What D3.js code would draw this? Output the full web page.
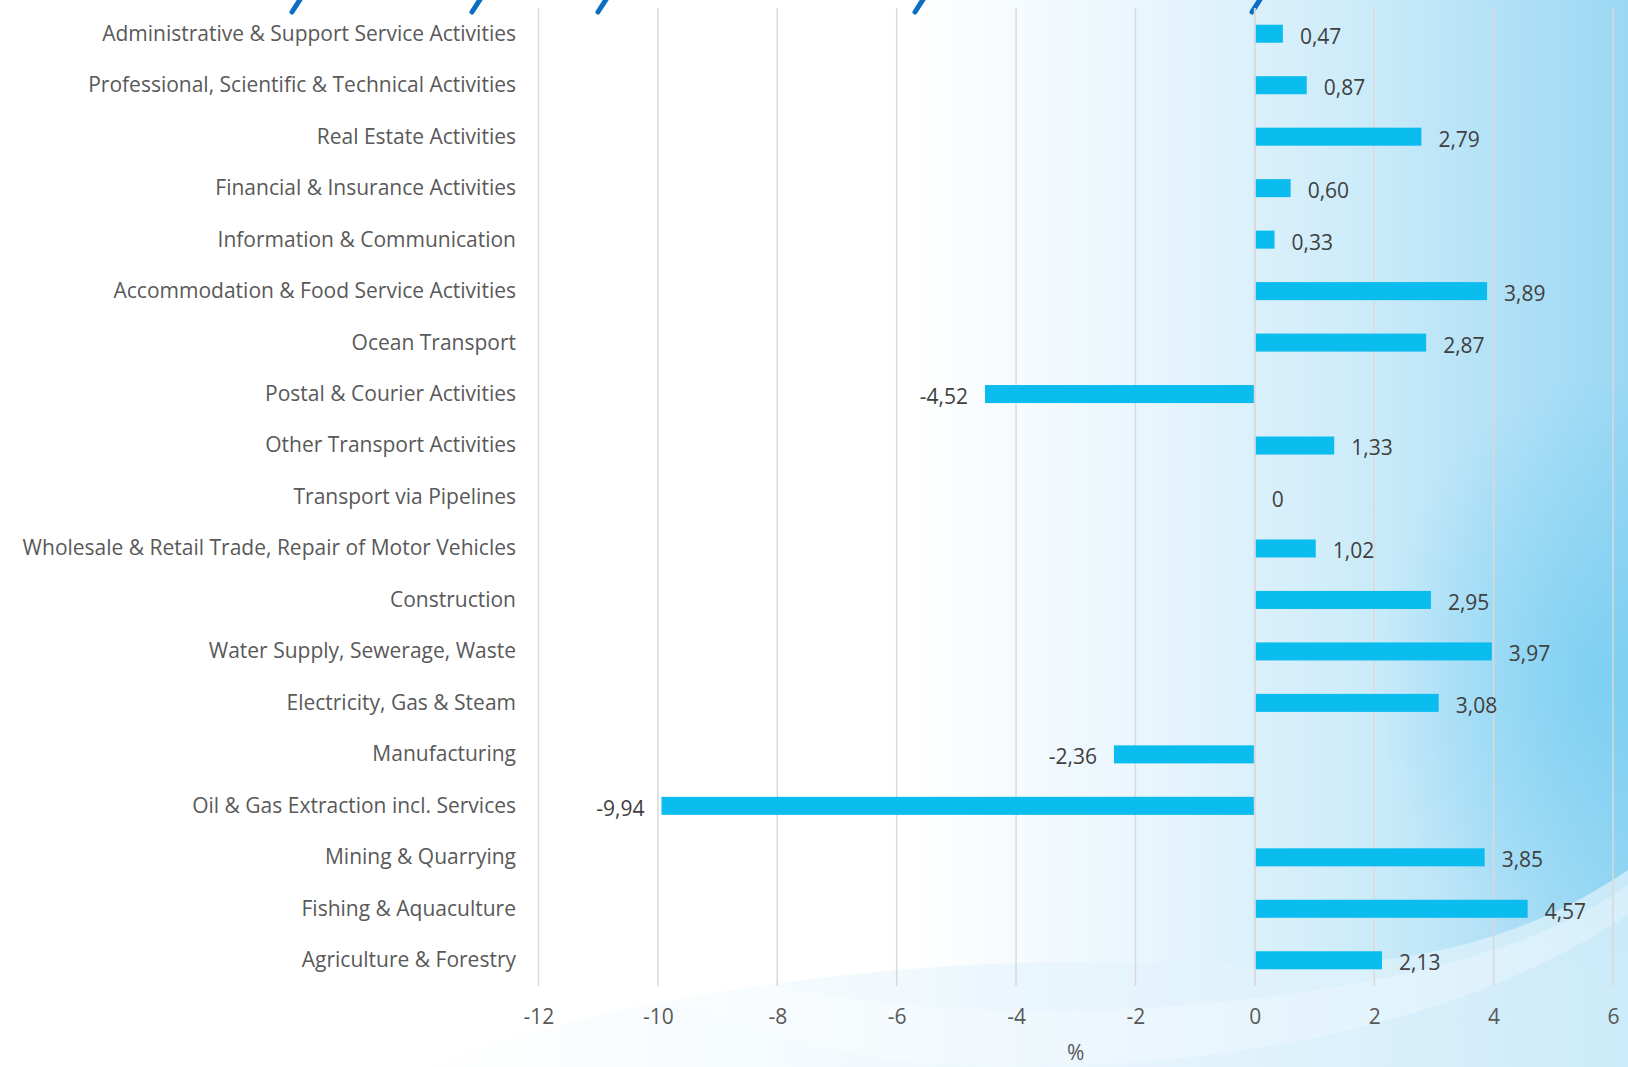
<!DOCTYPE html>
<html>
<head>
<meta charset="utf-8">
<script src="https://cdn.jsdelivr.net/npm/d3@7"></script>
<style>
  body { margin: 0; background: #fff; }
  svg { display: block; }
</style>
</head>
<body>
<script>
// data, top row first
var categories = [
  "Administrative & Support Service Activities",
  "Professional, Scientific & Technical Activities",
  "Real Estate Activities",
  "Financial & Insurance Activities",
  "Information & Communication",
  "Accommodation & Food Service Activities",
  "Ocean Transport",
  "Postal & Courier Activities",
  "Other Transport Activities",
  "Transport via Pipelines",
  "Wholesale & Retail Trade, Repair of Motor Vehicles",
  "Construction",
  "Water Supply, Sewerage, Waste",
  "Electricity, Gas & Steam",
  "Manufacturing",
  "Oil & Gas Extraction incl. Services",
  "Mining & Quarrying",
  "Fishing & Aquaculture",
  "Agriculture & Forestry"
];
var values = [0.47, 0.87, 2.79, 0.60, 0.33, 3.89, 2.87, -4.52, 1.33, 0,
              1.02, 2.95, 3.97, 3.08, -2.36, -9.94, 3.85, 4.57, 2.13];
var xTicks = [-12, -10, -8, -6, -4, -2, 0, 2, 4, 6];
var axisTitle = "%";

var width = 1628;
var height = 1067;
var font = "'Open Sans', 'Noto Sans', sans-serif";
var fs = 21;

var svg = d3.select("body")
  .append("svg")
  .attr("width", width)
  .attr("height", height);

var defs = svg.append("defs");

var bg = defs.append("linearGradient").attr("id", "bgGrad")
  .attr("x1", 0).attr("x2", 1).attr("y1", 0).attr("y2", 0);
bg.append("stop").attr("offset", "0%").attr("stop-color", "#ffffff");
bg.append("stop").attr("offset", "56%").attr("stop-color", "#ffffff");
bg.append("stop").attr("offset", "70%").attr("stop-color", "#eaf6fd");
bg.append("stop").attr("offset", "84%").attr("stop-color", "#cbebf9");
bg.append("stop").attr("offset", "100%").attr("stop-color", "#9ad7f4");

var glow = defs.append("radialGradient").attr("id", "glow")
  .attr("cx", 0.5).attr("cy", 0.5).attr("r", 0.5);
glow.append("stop").attr("offset", "0%").attr("stop-color", "#62c8f0").attr("stop-opacity", 0.55);
glow.append("stop").attr("offset", "100%").attr("stop-color", "#62c8f0").attr("stop-opacity", 0);

var swoosh = defs.append("linearGradient").attr("id", "swoosh")
  .attr("x1", 0).attr("x2", 1).attr("y1", 0).attr("y2", 0);
swoosh.append("stop").attr("offset", "0%").attr("stop-color", "#dcf0fb").attr("stop-opacity", 0);
swoosh.append("stop").attr("offset", "45%").attr("stop-color", "#dcf0fb").attr("stop-opacity", 0.45);
swoosh.append("stop").attr("offset", "100%").attr("stop-color", "#eef8fd").attr("stop-opacity", 0.6);

// background
svg.append("rect").attr("width", width).attr("height", height).attr("fill", "url(#bgGrad)");
svg.append("ellipse").attr("cx", 1600).attr("cy", 680).attr("rx", 220).attr("ry", 300)
  .attr("fill", "url(#glow)");
svg.append("path")
  .attr("d", "M420,1067 C650,985 950,950 1220,965 C1420,975 1540,930 1628,870 L1628,1067 Z")
  .attr("fill", "url(#swoosh)");
svg.append("path")
  .attr("d", "M460,890 C720,1000 960,1030 1240,1000 C1440,978 1560,935 1628,885 L1628,915 C1500,1000 1300,1067 1000,1067 C800,1067 620,990 460,890 Z")
  .attr("fill", "#ffffff").attr("opacity", 0.25);

// cut-off title descenders at the top edge
var strokes = [295, 475, 601, 918, 1255];
svg.selectAll("path.desc")
  .data(strokes)
  .enter()
  .append("path")
  .attr("class", "desc")
  .attr("d", function (d) { return "M" + (d + 6) + ",-2 L" + (d - 3) + ",12"; })
  .attr("stroke", "#0a6fc2")
  .attr("stroke-width", 5)
  .attr("stroke-linecap", "round");

var x = d3.scaleLinear().domain([-12, 6]).range([538.5, 1613]);
var y = d3.scaleBand().domain(categories).range([8, 986])
  .paddingInner(0.65).paddingOuter(0.325);

// grid lines
svg.append("g")
  .selectAll("line")
  .data(xTicks)
  .enter()
  .append("line")
  .attr("x1", function (d) { return x(d); })
  .attr("x2", function (d) { return x(d); })
  .attr("y1", 8)
  .attr("y2", 986)
  .attr("stroke", "#d9d9d9")
  .attr("stroke-width", function (d) { return d === 0 ? 2 : 1.5; });

// x axis labels
var xAxis = d3.axisBottom(x).tickValues(xTicks).tickSize(0).tickPadding(0)
  .tickFormat(function (d) { return String(d); });
var gx = svg.append("g").attr("transform", "translate(0,1005)").call(xAxis);
gx.select(".domain").remove();
gx.selectAll("text")
  .attr("font-family", font)
  .attr("font-size", fs)
  .attr("fill", "#595959")
  .attr("dy", "0.9em");

svg.append("text")
  .attr("x", x(-3))
  .attr("y", 1060)
  .attr("text-anchor", "middle")
  .attr("font-family", font)
  .attr("font-size", fs)
  .attr("fill", "#595959")
  .text(axisTitle);

// category labels
svg.append("g")
  .selectAll("text")
  .data(categories)
  .enter()
  .append("text")
  .attr("x", 516)
  .attr("y", function (d) { return y(d) + y.bandwidth() / 2; })
  .attr("dy", "0.33em")
  .attr("text-anchor", "end")
  .attr("font-family", font)
  .attr("font-size", fs)
  .attr("fill", "#595959")
  .text(function (d) { return d; });

// bars
svg.append("g")
  .selectAll("rect")
  .data(values)
  .enter()
  .append("rect")
  .attr("x", function (d) { return d < 0 ? x(d) : x(0) + 1; })
  .attr("y", function (d, i) { return y(categories[i]); })
  .attr("width", function (d) { return d === 0 ? 0 : Math.abs(x(d) - x(0)) - 1; })
  .attr("height", y.bandwidth())
  .attr("fill", "#0bbcee");

// value labels
var fmt = function (d) { return d === 0 ? "0" : d.toFixed(2).replace(".", ","); };
svg.append("g")
  .selectAll("text")
  .data(values)
  .enter()
  .append("text")
  .attr("x", function (d) { return d < 0 ? x(d) - 17 : x(d) + 17; })
  .attr("y", function (d, i) { return y(categories[i]) + y.bandwidth() / 2 + 3; })
  .attr("dy", "0.33em")
  .attr("text-anchor", function (d) { return d < 0 ? "end" : "start"; })
  .attr("font-family", font)
  .attr("font-size", fs)
  .attr("fill", "#404040")
  .text(fmt);
</script>
</body>
</html>
